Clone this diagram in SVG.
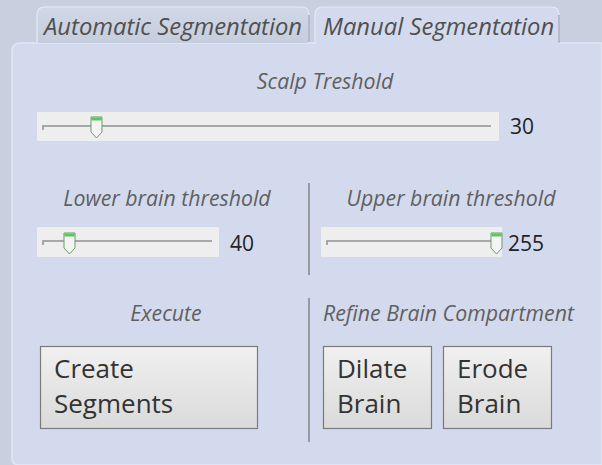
<svg xmlns="http://www.w3.org/2000/svg" width="602" height="465" viewBox="0 0 602 465">
<defs>
<linearGradient id="btn" x1="0" y1="0" x2="0" y2="1"><stop offset="0" stop-color="#f0f0f0"/><stop offset="1" stop-color="#dadada"/></linearGradient>
<linearGradient id="tabA" x1="0" y1="0" x2="0" y2="1"><stop offset="0" stop-color="#d0d7e6"/><stop offset="1" stop-color="#c6cede"/></linearGradient>
<g id="thumb"><path d="M0,0 H11 V15 L5.5,21 L0,15 Z" fill="#f4f4f4" stroke="#6a9a6a" stroke-width="1"/><rect x="0.5" y="0.5" width="10" height="3" fill="#5cc45c"/></g>
</defs>
<style>
.lbl{font-family:"Open Sans","Noto Sans",sans-serif;font-style:italic;fill:#606060;font-size:21.3px}
.tab{font-family:"Open Sans","Noto Sans",sans-serif;font-style:italic;fill:#505050;font-size:23.8px}
.val{font-family:"Open Sans","Noto Sans",sans-serif;fill:#222;font-size:21px}
.bt{font-family:"Open Sans","Noto Sans",sans-serif;fill:#333;font-size:26px}
.sbg{fill:#eeeeee}
.trk{stroke:#909090;stroke-width:1.5;fill:none}
.btnr{fill:url(#btn);stroke:#7a7a7a;stroke-width:1.2}
.div{stroke:#707070;stroke-width:1.2}
</style>
<rect width="602" height="465" fill="#c8d0e0"/>
<g id="panel">
<path d="M12,51 Q12,43 20,43 H602 V465 H19 Q12,465 12,458 Z" fill="#d4daee" stroke="#e2e6f3" stroke-width="1.5"/>
</g>
<g id="tab-auto">
<path d="M37,43 V15 Q37,7 45,7 H302 Q309,7 309,15 V43" fill="url(#tabA)" stroke="#e6eaf3" stroke-width="1.2"/>
<line x1="309" y1="15" x2="309" y2="42" stroke="#8a93a6" stroke-width="1"/>
<text class="tab" x="44" y="35">Automatic Segmentation</text>
</g>
<g id="tab-manual">
<path d="M315,44 V15 Q315,7 323,7 H552 Q559,7 559,15 V44" fill="#d4daee" stroke="#e6eaf3" stroke-width="1.2"/>
<line x1="559" y1="15" x2="559" y2="43" stroke="#8a93a6" stroke-width="1"/>
<text class="tab" x="323" y="35">Manual Segmentation</text>
</g>
<g id="scalp">
<text class="lbl" x="325" y="89" text-anchor="middle">Scalp Treshold</text>
<rect class="sbg" x="37" y="112" width="462" height="29"/>
<path class="trk" d="M43,130 V126 H491"/>
<use href="#thumb" x="91" y="117"/>
<text class="val" x="510" y="134">30</text>
</g>
<g id="lower">
<text class="lbl" x="167" y="206" text-anchor="middle">Lower brain threshold</text>
<rect class="sbg" x="37" y="227" width="182" height="30"/>
<path class="trk" d="M43,245 V241 H212"/>
<use href="#thumb" x="64" y="233"/>
<text class="val" x="230" y="251">40</text>
</g>
<line class="div" x1="309" y1="183" x2="309" y2="275"/>
<g id="upper">
<text class="lbl" x="451" y="206" text-anchor="middle">Upper brain threshold</text>
<rect class="sbg" x="321" y="227" width="181" height="30"/>
<path class="trk" d="M327,245 V241 H492"/>
<use href="#thumb" x="491" y="233"/>
<text class="val" x="508" y="251">255</text>
</g>
<g id="execute">
<text class="lbl" x="166" y="321" text-anchor="middle">Execute</text>
<rect class="btnr" x="40.5" y="346.5" width="217" height="82"/>
<text class="bt" x="54" y="378">Create</text>
<text class="bt" x="54" y="413">Segments</text>
</g>
<line class="div" x1="309" y1="298" x2="309" y2="442"/>
<g id="refine">
<text class="lbl" x="323" y="321">Refine Brain Compartment</text>
<rect class="btnr" x="323.5" y="346.5" width="108" height="82"/>
<text class="bt" x="337" y="378">Dilate</text>
<text class="bt" x="337" y="413">Brain</text>
<rect class="btnr" x="443.5" y="346.5" width="108" height="82"/>
<text class="bt" x="457" y="378">Erode</text>
<text class="bt" x="457" y="413">Brain</text>
</g>
</svg>
